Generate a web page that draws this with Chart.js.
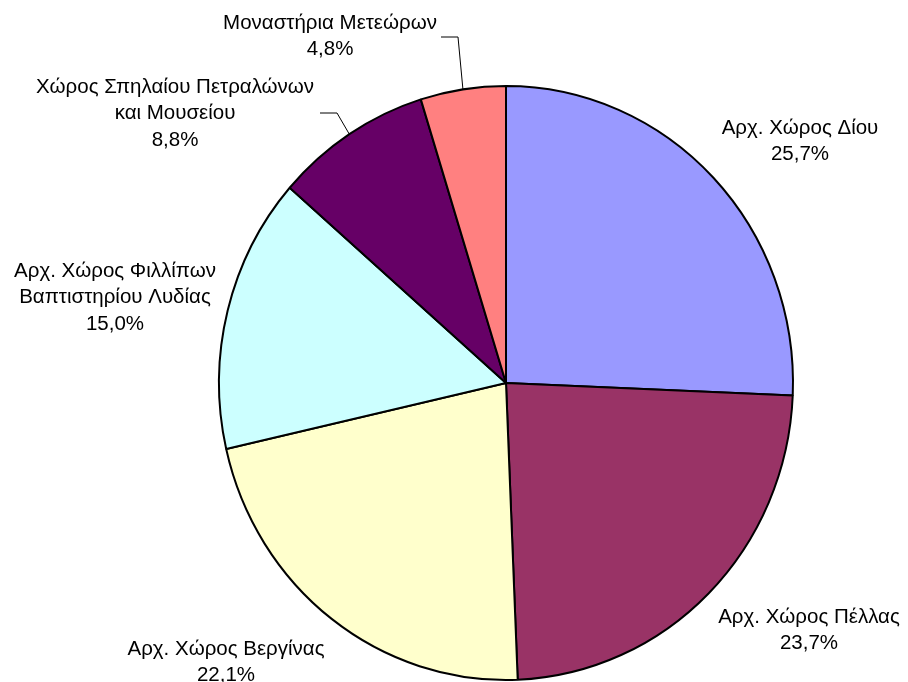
<!DOCTYPE html>
<html>
<head>
<meta charset="utf-8">
<script src="https://cdn.jsdelivr.net/npm/chart.js@4/dist/chart.umd.min.js"></script>
<style>
  html,body{margin:0;padding:0;background:#fff;}
  #wrap{width:908px;height:682px;}
</style>
</head>
<body>
<div id="wrap"><canvas id="pieChart" width="908" height="682"></canvas></div>
<script>
// data
const sites = [
  ["Αρχ. Χώρος Δίου"],
  ["Αρχ. Χώρος Πέλλας"],
  ["Αρχ. Χώρος Βεργίνας"],
  ["Αρχ. Χώρος Φιλλίπων", "Βαπτιστηρίου Λυδίας"],
  ["Χώρος Σπηλαίου Πετραλώνων", "και Μουσείου"],
  ["Μοναστήρια Μετεώρων"]
];
const shares = [25.7, 23.7, 22.1, 15.0, 8.8, 4.8];
const shareLabels = ["25,7%", "23,7%", "22,1%", "15,0%", "8,8%", "4,8%"];
const sliceColors = ["#9999FF", "#993366", "#FFFFCC", "#CCFFFF", "#660066", "#FF8080"];

// label layout (text block centre x, first line middle y, optional leader elbow)
const labelLayout = [
  { x: 800, y: 128 },
  { x: 809, y: 617 },
  { x: 226, y: 649 },
  { x: 115, y: 271 },
  { x: 175, y: 87, elbow: [[320,113],[337,113]] },
  { x: 330, y: 23, elbow: [[441,37],[458,37]] }
];
const LINE_H = 26.5;
const Y_STRETCH = 297/287; // the original pie is a touch taller than wide

const stretchPlugin = {
  id: "stretch",
  beforeDatasetsDraw(chart){
    const a = chart.getDatasetMeta(0).data[0];
    const ctx = chart.ctx;
    ctx.save();
    ctx.translate(a.x, a.y);
    ctx.scale(1, Y_STRETCH);
    ctx.translate(-a.x, -a.y);
  },
  afterDatasetsDraw(chart){
    chart.ctx.restore();
  }
};

const labelPlugin = {
  id: "sliceLabels",
  afterDraw(chart){
    const ctx = chart.ctx;
    const arcs = chart.getDatasetMeta(0).data;
    ctx.save();
    ctx.font = "20.5px 'Liberation Sans', Arial, sans-serif";
    ctx.fillStyle = "#000";
    ctx.textAlign = "center";
    ctx.textBaseline = "middle";
    arcs.forEach((arc, i) => {
      const lay = labelLayout[i];
      const lines = sites[i].concat([shareLabels[i]]);
      lines.forEach((t, k) => ctx.fillText(t, lay.x, lay.y + k*LINE_H));
      if(lay.elbow){
        const mid = (arc.startAngle + arc.endAngle)/2;
        const ex = arc.x + Math.cos(mid)*arc.outerRadius;
        const ey = arc.y + Math.sin(mid)*arc.outerRadius*Y_STRETCH;
        ctx.beginPath();
        ctx.strokeStyle = "#000";
        ctx.lineWidth = 1;
        ctx.moveTo(lay.elbow[0][0], lay.elbow[0][1]);
        ctx.lineTo(lay.elbow[1][0], lay.elbow[1][1]);
        ctx.lineTo(ex, ey);
        ctx.stroke();
      }
    });
    ctx.restore();
  }
};

new Chart(document.getElementById("pieChart").getContext("2d"), {
  type: "pie",
  data: {
    labels: sites.map(s => s.join(" ")),
    datasets: [{
      data: shares,
      backgroundColor: sliceColors,
      borderColor: "#000",
      borderWidth: 2
    }]
  },
  options: {
    responsive: false,
    animation: false,
    layout: { padding: { left: 218, right: 114, top: 95, bottom: 11 } },
    plugins: {
      legend: { display: false },
      tooltip: { enabled: false }
    }
  },
  plugins: [stretchPlugin, labelPlugin]
});
</script>
</body>
</html>
